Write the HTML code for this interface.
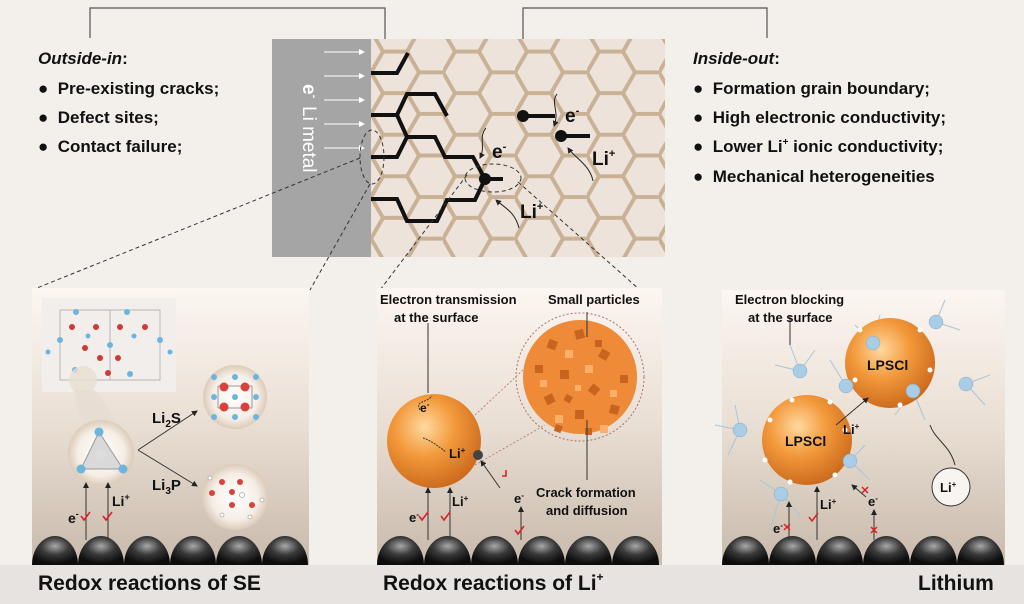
<!DOCTYPE html>
<html><head><meta charset="utf-8"><style>
html,body{margin:0;padding:0;background:#f3efeb;}
svg{display:block;font-family:"Liberation Sans",Arial,sans-serif;}
</style></head><body>
<svg width="1024" height="604" viewBox="0 0 1024 604" xmlns="http://www.w3.org/2000/svg">
<defs>
<pattern id="hex" x="371" y="10" width="72" height="41.57" patternUnits="userSpaceOnUse">
<path d="M0,20.78 L12,0 L36,0 L48,20.78 L36,41.57 L12,41.57 Z M48,20.78 L72,20.78" fill="none" stroke="#c9b196" stroke-width="4"/>
</pattern>
<linearGradient id="pg" x1="0" y1="0" x2="0" y2="1">
<stop offset="0" stop-color="#fcf6f1"/><stop offset="0.5" stop-color="#e9ded3"/><stop offset="1" stop-color="#c8baac"/>
</linearGradient>
<radialGradient id="ball" cx="0.5" cy="0.35" r="0.6">
<stop offset="0" stop-color="#a8a8a8"/><stop offset="0.5" stop-color="#3a3a3a"/><stop offset="1" stop-color="#0d0d0d"/>
</radialGradient>
<radialGradient id="org" cx="0.4" cy="0.35" r="0.7">
<stop offset="0" stop-color="#ffd9a0"/><stop offset="0.45" stop-color="#f39a3c"/><stop offset="1" stop-color="#c9661a"/>
</radialGradient>
<radialGradient id="bub" cx="0.5" cy="0.5" r="0.5">
<stop offset="0" stop-color="#ffffff"/><stop offset="0.7" stop-color="#f6eee6"/><stop offset="1" stop-color="#dccbb9"/>
</radialGradient>
<marker id="ar" markerWidth="6" markerHeight="6" refX="5" refY="3" orient="auto"><path d="M0,0 L6,3 L0,6 Z" fill="#222"/></marker>
<marker id="arw" markerWidth="6" markerHeight="6" refX="5" refY="3" orient="auto"><path d="M0,0 L6,3 L0,6 Z" fill="#fff"/></marker>
</defs>

<rect width="1024" height="604" fill="#f3efeb"/>
<rect x="0" y="565" width="1024" height="39" fill="#e6e3e1"/>

<path d="M90,38 V8 H385 V67" fill="none" stroke="#555" stroke-width="1.2"/>
<path d="M523,113 V8 H767 V38" fill="none" stroke="#555" stroke-width="1.2"/>

<rect x="371" y="39" width="294" height="218" fill="#ede3db"/>
<rect x="371" y="39" width="294" height="218" fill="url(#hex)"/>
<rect x="272" y="39" width="99" height="218" fill="#a5a5a5"/>
<g stroke="#fff" stroke-width="1" marker-end="url(#arw)">
<line x1="324" y1="52" x2="364" y2="52"/><line x1="324" y1="76" x2="364" y2="76"/><line x1="324" y1="100" x2="364" y2="100"/><line x1="324" y1="124" x2="364" y2="124"/><line x1="324" y1="148" x2="364" y2="148"/>
</g>
<g transform="translate(303,84) rotate(90)" fill="#fff" font-size="19">
<text x="0" y="0" font-weight="bold">e<tspan font-size="11" dy="-8">-</tspan></text>
<text x="22" y="0" font-size="19">Li metal</text>
</g>

<g fill="none" stroke="#111" stroke-width="4" stroke-linejoin="miter">
<path d="M371,73 H397 L408,53"/>
<path d="M371,115 H397 L407,94 H435 L447,116"/>
<path d="M397,115 L407,137 H435 L445,157 H473 L485,179 H503"/>
<path d="M371,157 H397 L407,137"/>
<path d="M371,199 H397 L407,221 H437 L447,200 H475 L485,179"/>
<path d="M523,116 H555"/>
<path d="M561,136 H590"/>
</g>
<circle cx="485" cy="179" r="6" fill="#111"/>
<circle cx="523" cy="116" r="6" fill="#111"/>
<circle cx="561" cy="136" r="6" fill="#111"/>
<g fill="none" stroke="#222" stroke-width="1" marker-end="url(#ar)">
<path d="M486,128 C478,138 486,146 480,158"/>
<path d="M557,94 C550,104 560,110 554,126"/>
<path d="M519,228 C515,212 505,208 496,200"/>
<path d="M593,181 C590,165 575,158 568,148"/>
</g>
<g font-weight="bold" font-size="19" fill="#111">
<text x="492" y="158">e<tspan font-size="11" dy="-8">-</tspan></text>
<text x="565" y="122">e<tspan font-size="11" dy="-8">-</tspan></text>
<text x="592" y="165">Li<tspan font-size="11" dy="-8">+</tspan></text>
<text x="520" y="218">Li<tspan font-size="11" dy="-8">+</tspan></text>
</g>
<g fill="none" stroke="#333" stroke-width="1" stroke-dasharray="4,3">
<ellipse cx="372" cy="157" rx="12" ry="27"/>
<ellipse cx="493" cy="178" rx="28" ry="14"/>
<line x1="360" y1="158" x2="32" y2="290"/>
<line x1="370" y1="184" x2="310" y2="290"/>
<line x1="467" y1="175" x2="380" y2="290"/>
<line x1="518" y1="182" x2="640" y2="290"/>
</g>

<g font-weight="bold" font-size="17" fill="#111">
<text x="38" y="64" font-style="italic">Outside-in<tspan font-style="normal">:</tspan></text>
<text x="38" y="94">●&#160; Pre-existing cracks;</text>
<text x="38" y="123">●&#160; Defect sites;</text>
<text x="38" y="152">●&#160; Contact failure;</text>
<text x="693" y="64" font-style="italic">Inside-out<tspan font-style="normal">:</tspan></text>
<text x="693" y="94">●&#160; Formation grain boundary;</text>
<text x="693" y="123">●&#160; High electronic conductivity;</text>
<text x="693" y="152">●&#160; Lower Li<tspan font-size="10" dy="-7">+</tspan><tspan dy="7"> ionic conductivity;</tspan></text>
<text x="693" y="182">●&#160; Mechanical heterogeneities</text>
</g>

<rect x="32" y="288" width="277" height="277" fill="url(#pg)"/>
<rect x="377" y="288" width="285" height="277" fill="url(#pg)"/>
<rect x="722" y="290" width="283" height="275" fill="url(#pg)"/>

<g fill="url(#ball)">
<path d="M32,565 a23,29 0 0 1 46,0Z"/><path d="M78,565 a23,29 0 0 1 46,0Z"/><path d="M124,565 a23,29 0 0 1 46,0Z"/><path d="M170,565 a23,29 0 0 1 46,0Z"/><path d="M216,565 a23,29 0 0 1 46,0Z"/><path d="M262,565 a23,29 0 0 1 46,0Z"/>
<path d="M377,565 a23.5,29 0 0 1 47,0Z"/><path d="M424,565 a23.5,29 0 0 1 47,0Z"/><path d="M471,565 a23.5,29 0 0 1 47,0Z"/><path d="M518,565 a23.5,29 0 0 1 47,0Z"/><path d="M565,565 a23.5,29 0 0 1 47,0Z"/><path d="M612,565 a23.5,29 0 0 1 47,0Z"/>
<path d="M722,565 a23.5,29 0 0 1 47,0Z"/><path d="M769,565 a23.5,29 0 0 1 47,0Z"/><path d="M816,565 a23.5,29 0 0 1 47,0Z"/><path d="M863,565 a23.5,29 0 0 1 47,0Z"/><path d="M910,565 a23.5,29 0 0 1 47,0Z"/><path d="M957,565 a23.5,29 0 0 1 47,0Z"/>
</g>

<rect x="42" y="298" width="134" height="94" fill="#f1eeec"/>
<g stroke="#aaa" stroke-width="0.8" fill="none"><rect x="60" y="310" width="100" height="70"/><line x1="110" y1="310" x2="110" y2="380"/></g>
<g fill="#6bb5df">
<circle cx="76" cy="312" r="3"/><circle cx="127" cy="312" r="3"/><circle cx="88" cy="336" r="2.5"/><circle cx="134" cy="336" r="2.5"/><circle cx="60" cy="340" r="3"/><circle cx="160" cy="340" r="3"/><circle cx="110" cy="345" r="3"/><circle cx="75" cy="370" r="3"/><circle cx="130" cy="374" r="3"/><circle cx="48" cy="352" r="2.5"/><circle cx="170" cy="352" r="2.5"/>
</g>
<g fill="#cc3b35"><circle cx="72" cy="327" r="3"/><circle cx="96" cy="327" r="3"/><circle cx="120" cy="327" r="3"/><circle cx="145" cy="327" r="3"/><circle cx="85" cy="348" r="3"/><circle cx="100" cy="358" r="3"/><circle cx="118" cy="358" r="3"/><circle cx="108" cy="373" r="3"/></g>
<circle cx="83" cy="380" r="14" fill="#e8ddd2" opacity="0.8"/>
<path d="M74,390 L95,390 L120,425 L82,425 Z" fill="#e6dcd2" opacity="0.7"/>
<circle cx="101" cy="453" r="33" fill="url(#bub)"/>
<path d="M99,432 L81,469 L123,469 Z" fill="#d9d9d9" stroke="#999" stroke-width="1"/>
<circle cx="101" cy="455" r="5" fill="#ddd"/>
<circle cx="99" cy="432" r="4.5" fill="#6bb5df"/><circle cx="81" cy="469" r="4.5" fill="#6bb5df"/><circle cx="123" cy="469" r="4.5" fill="#6bb5df"/>
<circle cx="235" cy="397" r="32" fill="url(#bub)"/>
<g stroke="#999" stroke-width="1"><line x1="218" y1="386" x2="252" y2="386"/><line x1="218" y1="408" x2="252" y2="408"/><line x1="218" y1="386" x2="218" y2="408"/><line x1="252" y1="386" x2="252" y2="408"/></g>
<g fill="#d9423c"><circle cx="224" cy="387" r="4.5"/><circle cx="245" cy="387" r="4.5"/><circle cx="224" cy="407" r="4.5"/><circle cx="245" cy="407" r="4.5"/></g>
<g fill="#6bb5df"><circle cx="214" cy="377" r="3"/><circle cx="235" cy="377" r="3"/><circle cx="256" cy="377" r="3"/><circle cx="214" cy="397" r="3"/><circle cx="235" cy="397" r="3"/><circle cx="256" cy="397" r="3"/><circle cx="214" cy="417" r="3"/><circle cx="235" cy="417" r="3"/><circle cx="256" cy="417" r="3"/></g>
<circle cx="235" cy="497" r="33" fill="url(#bub)"/>
<g fill="#d9423c"><circle cx="222" cy="482" r="3"/><circle cx="240" cy="482" r="3"/><circle cx="232" cy="492" r="3"/><circle cx="232" cy="505" r="3"/><circle cx="252" cy="505" r="3"/><circle cx="212" cy="493" r="3"/></g>
<g fill="#fff" stroke="#aaa" stroke-width="0.8"><circle cx="242" cy="495" r="2.5"/><circle cx="210" cy="478" r="2"/><circle cx="262" cy="500" r="2"/><circle cx="222" cy="515" r="2"/><circle cx="250" cy="517" r="2"/></g>
<g stroke="#333" stroke-width="1" fill="none" marker-end="url(#ar)">
<path d="M138,450 L197,411"/><path d="M138,450 L197,486"/>
<line x1="86" y1="540" x2="86" y2="483"/><line x1="108" y1="540" x2="108" y2="483"/>
</g>
<g font-weight="bold" font-size="15" fill="#111">
<text x="152" y="423">Li<tspan font-size="10" dy="4">2</tspan><tspan dy="-4">S</tspan></text>
<text x="152" y="490">Li<tspan font-size="10" dy="4">3</tspan><tspan dy="-4">P</tspan></text>
<text x="112" y="506" font-size="14">Li<tspan font-size="9" dy="-6">+</tspan></text>
<text x="68" y="523" font-size="14">e<tspan font-size="9" dy="-6">-</tspan></text>
</g>
<g stroke="#d22" stroke-width="1.6" fill="none"><path d="M81,516 l3,4 l6,-8"/><path d="M103,516 l3,4 l6,-8"/></g>

<circle cx="434" cy="441" r="47" fill="url(#org)"/>
<circle cx="580" cy="377" r="64" fill="none" stroke="#b07070" stroke-width="1" stroke-dasharray="2,2"/>
<circle cx="580" cy="377" r="57" fill="#ee8a38"/>
<g fill="#c96420">
<rect x="548" y="340" width="9" height="9" transform="rotate(20 552 344)"/><rect x="575" y="330" width="9" height="9" transform="rotate(-15 579 334)"/><rect x="600" y="350" width="9" height="9" transform="rotate(30 604 354)"/><rect x="560" y="370" width="9" height="9"/><rect x="590" y="385" width="9" height="9" transform="rotate(40 594 389)"/><rect x="545" y="395" width="9" height="9" transform="rotate(-25 549 399)"/><rect x="575" y="410" width="9" height="9"/><rect x="610" y="405" width="9" height="9" transform="rotate(15 614 409)"/><rect x="535" y="365" width="8" height="8"/><rect x="620" y="375" width="8" height="8"/>
<rect x="565" y="395" width="7" height="7" transform="rotate(30 568 398)"/><rect x="595" y="340" width="7" height="7"/><rect x="555" y="425" width="7" height="7" transform="rotate(20 558 428)"/><rect x="585" y="428" width="7" height="7"/>
</g>
<g fill="#fbb06a"><rect x="565" y="350" width="8" height="8"/><rect x="585" y="365" width="8" height="8"/><rect x="555" y="415" width="8" height="8"/><rect x="600" y="425" width="8" height="8"/><rect x="540" y="380" width="7" height="7"/><rect x="610" y="390" width="7" height="7"/><rect x="575" y="385" width="6" height="6"/></g>
<g stroke="#b07070" stroke-width="0.8" stroke-dasharray="2,2"><line x1="475" y1="415" x2="523" y2="370"/><line x1="475" y1="465" x2="545" y2="425"/></g>
<circle cx="478" cy="455" r="5" fill="#444"/>
<g stroke="#333" stroke-width="1" fill="none">
<line x1="428" y1="323" x2="428" y2="393"/><line x1="587" y1="312" x2="587" y2="337"/><line x1="587" y1="420" x2="587" y2="480"/>
<line x1="500" y1="488" x2="481" y2="461" marker-end="url(#ar)"/>
<line x1="428" y1="540" x2="428" y2="488" marker-end="url(#ar)"/><line x1="450" y1="540" x2="450" y2="488" marker-end="url(#ar)"/>
<line x1="521" y1="540" x2="521" y2="507" marker-end="url(#ar)"/>
<path d="M420,410 C415,400 425,404 432,396" stroke-dasharray="2,1"/><path d="M423,438 C430,440 438,446 446,452" stroke-dasharray="2,1"/>
</g>
<g font-weight="bold" font-size="13" fill="#111" font-family="Liberation Sans Narrow, Liberation Sans, sans-serif">
<text x="380" y="304">Electron transmission</text>
<text x="394" y="322">at the surface</text>
<text x="548" y="304">Small particles</text>
<text x="536" y="497">Crack formation</text>
<text x="546" y="515">and diffusion</text>
<text x="420" y="412" font-size="12">e<tspan font-size="8" dy="-5">-</tspan></text>
<text x="449" y="458" font-size="13">Li<tspan font-size="8" dy="-5">+</tspan></text>
<text x="452" y="506" font-size="13">Li<tspan font-size="8" dy="-5">+</tspan></text>
<text x="409" y="522" font-size="13">e<tspan font-size="8" dy="-5">-</tspan></text>
<text x="514" y="503" font-size="13">e<tspan font-size="8" dy="-5">-</tspan></text>
</g>
<g stroke="#d22" stroke-width="1.6" fill="none"><path d="M419,516 l3,4 l6,-8"/><path d="M441,516 l3,4 l6,-8"/><path d="M515,530 l3,4 l6,-8"/><path d="M506,470 l0,6 l-4,0"/></g>

<g stroke="#a9c5d8" stroke-width="1">
<line x1="740" y1="430" x2="715" y2="425"/><line x1="740" y1="430" x2="735" y2="405"/><line x1="740" y1="430" x2="728" y2="455"/>
<line x1="781" y1="494" x2="770" y2="530"/><line x1="781" y1="494" x2="760" y2="480"/><line x1="781" y1="494" x2="800" y2="515"/>
<line x1="800" y1="371" x2="790" y2="345"/><line x1="800" y1="371" x2="775" y2="365"/><line x1="800" y1="371" x2="815" y2="350"/>
<line x1="846" y1="386" x2="830" y2="360"/><line x1="846" y1="386" x2="860" y2="360"/>
<line x1="850" y1="461" x2="870" y2="480"/><line x1="850" y1="461" x2="865" y2="445"/>
<line x1="873" y1="343" x2="855" y2="325"/><line x1="873" y1="343" x2="880" y2="315"/>
<line x1="913" y1="391" x2="925" y2="420"/><line x1="913" y1="391" x2="895" y2="415"/>
<line x1="936" y1="322" x2="945" y2="300"/><line x1="936" y1="322" x2="960" y2="330"/>
<line x1="966" y1="384" x2="990" y2="375"/><line x1="966" y1="384" x2="985" y2="405"/>
</g>
<circle cx="890" cy="363" r="45" fill="url(#org)"/>
<circle cx="807" cy="440" r="45" fill="url(#org)"/>
<g fill="#a9cde6" stroke="#8ab" stroke-width="0.5">
<circle cx="740" cy="430" r="7"/><circle cx="781" cy="494" r="7"/><circle cx="800" cy="371" r="7"/><circle cx="846" cy="386" r="7"/><circle cx="850" cy="461" r="7"/><circle cx="873" cy="343" r="7"/><circle cx="913" cy="391" r="7"/><circle cx="936" cy="322" r="7"/><circle cx="966" cy="384" r="7"/>
</g>
<g fill="#fff"><circle cx="770" cy="420" r="2.5"/><circle cx="792" cy="400" r="2.5"/><circle cx="830" cy="402" r="2.5"/><circle cx="845" cy="430" r="2.5"/><circle cx="835" cy="475" r="2.5"/><circle cx="790" cy="482" r="2.5"/><circle cx="765" cy="460" r="2.5"/><circle cx="860" cy="330" r="2.5"/><circle cx="920" cy="330" r="2.5"/><circle cx="930" cy="370" r="2.5"/><circle cx="900" cy="405" r="2.5"/><circle cx="855" cy="380" r="2.5"/></g>
<circle cx="951" cy="487" r="19" fill="#f8f4f0" stroke="#333" stroke-width="1"/>
<g stroke="#333" stroke-width="1" fill="none">
<line x1="790" y1="316" x2="790" y2="345"/>
<path d="M955,465 C950,445 935,440 930,425"/>
<line x1="836" y1="425" x2="868" y2="398" marker-end="url(#ar)"/>
<line x1="789" y1="540" x2="789" y2="502" marker-end="url(#ar)"/>
<line x1="817" y1="540" x2="817" y2="487" marker-end="url(#ar)"/>
<line x1="874" y1="540" x2="874" y2="510" marker-end="url(#ar)"/>
<line x1="866" y1="497" x2="852" y2="485" marker-end="url(#ar)"/>
</g>
<g font-weight="bold" font-size="13" fill="#111" font-family="Liberation Sans Narrow, Liberation Sans, sans-serif">
<text x="735" y="304">Electron blocking</text>
<text x="748" y="322">at the surface</text>
<text x="785" y="446" font-size="14">LPSCl</text>
<text x="867" y="370" font-size="14">LPSCl</text>
<text x="940" y="492" font-size="13">Li<tspan font-size="8" dy="-5">+</tspan></text>
<text x="843" y="434" font-size="13">Li<tspan font-size="8" dy="-5">+</tspan></text>
<text x="820" y="509" font-size="13">Li<tspan font-size="8" dy="-5">+</tspan></text>
<text x="773" y="533" font-size="13">e<tspan font-size="8" dy="-5">-</tspan></text>
<text x="868" y="506" font-size="13">e<tspan font-size="8" dy="-5">-</tspan></text>
</g>
<g stroke="#d22" stroke-width="1.5" fill="none">
<path d="M784,524 l6,6 M790,524 l-6,6"/><path d="M871,527 l6,6 M877,527 l-6,6"/><path d="M862,487 l6,6 M868,487 l-6,6"/>
<path d="M809,517 l3,4 l6,-8"/>
</g>

<g font-weight="bold" font-size="21" fill="#111">
<text x="38" y="590">Redox reactions of SE</text>
<text x="383" y="590">Redox reactions of Li<tspan font-size="12" dy="-9">+</tspan></text>
<text x="918" y="590">Lithium</text>
</g>
</svg>
</body></html>
